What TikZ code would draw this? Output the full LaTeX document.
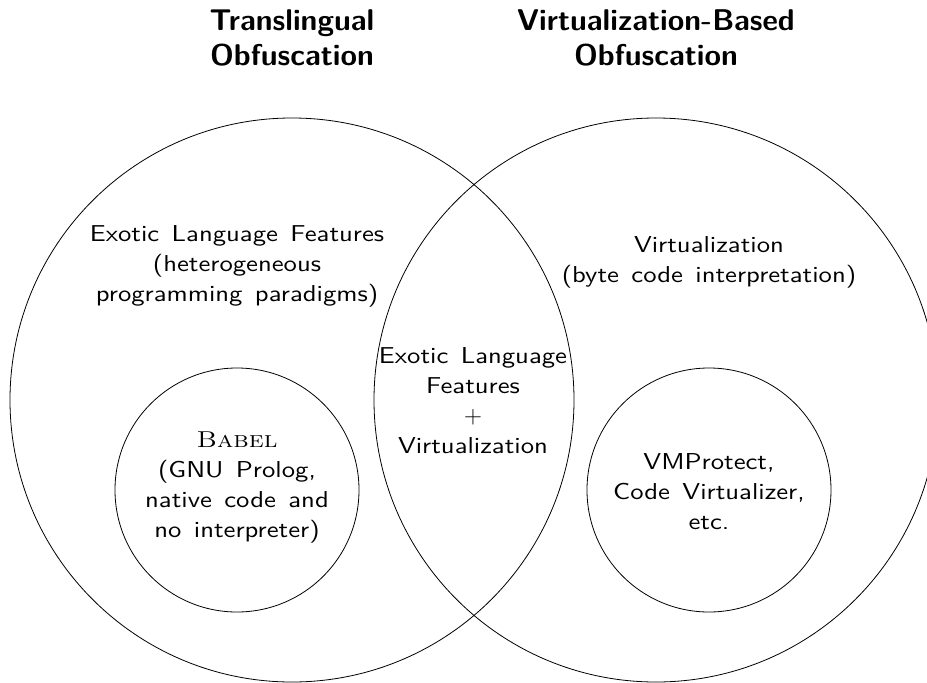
\documentclass[tikz,border=0pt]{standalone}
\usepackage{fontspec}
\newfontfamily\bodyfam{lmsans10-regular.otf}[FakeStretch=1.16,WordSpace=1.4]
\newfontfamily\scfam{lmromancaps10-regular.otf}[FakeStretch=1.16]
\begin{document}
\begin{tikzpicture}[x=1pt,y=-1pt,
  ring/.style={circle,draw,line width=0.8pt,inner sep=0pt},
  body/.style={align=center,font=\bodyfam\fontsize{23}{30}\selectfont,inner sep=0pt},
  title/.style={align=center,font=\fontsize{30}{35}\selectfont\sffamily\bfseries,inner sep=0pt}]
\useasboundingbox (0,0) rectangle (927,683);
\node[ring,minimum size=564pt] (L) at (292,400) {};
\node[ring,minimum size=564pt] (R) at (656,400) {};
\node[ring,minimum size=244pt] (Li) at (237,490) {};
\node[ring,minimum size=244pt] (Ri) at (709,490) {};
\node[title] (tl) at (292,38) {Translingual\\Obfuscation};
\node[title] (tr) at (656,38) {Virtualization-Based\\Obfuscation};
\node[body] (lt) at (237,266) {Exotic Language Features\\(heterogeneous\\programming paradigms)};
\node[body] (rt) at (709,262) {Virtualization\\(byte code interpretation)};
\node[body] (mid) at (473,401) {Exotic Language\\Features\\{\fontsize{28}{30}\selectfont$+$}\\Virtualization};
\node[body] (babel) at (237,488) {{\scfam Babel}\\(GNU Prolog,\\native code and\\no interpreter)};
\node[body] (vm) at (709,492) {VMProtect,\\Code Virtualizer,\\etc.};
\end{tikzpicture}
\end{document}
